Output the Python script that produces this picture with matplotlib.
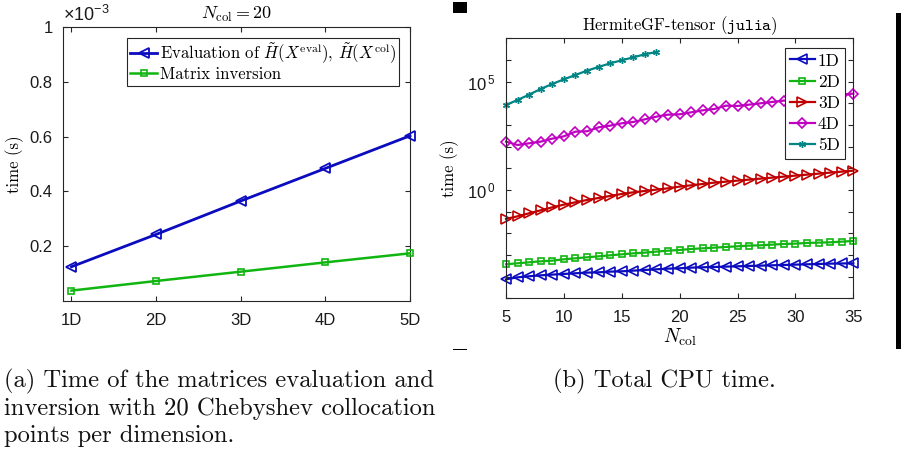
import numpy as np
import matplotlib
matplotlib.use("Agg")
import matplotlib.pyplot as plt
from matplotlib.ticker import FixedLocator, FuncFormatter, NullLocator
from matplotlib.patches import Rectangle

plt.rcParams['font.family'] = ['Liberation Sans', 'DejaVu Sans']
plt.rcParams['mathtext.fontset'] = 'cm'
plt.rcParams['axes.unicode_minus'] = False

SERIF = 'cmr10'

# ---- (a) evaluation / inversion time with 20 collocation points ----
dims = ['1D', '2D', '3D', '4D', '5D']
t_eval = [0.125e-3, 0.243e-3, 0.365e-3, 0.484e-3, 0.603e-3]
t_inv = [0.038e-3, 0.073e-3, 0.107e-3, 0.141e-3, 0.174e-3]

# ---- (b) total CPU time, HermiteGF-tensor (julia) ----
n_col = list(range(5, 36))
n_col_5d = list(range(5, 19))
cpu_1d = [7.5e-5, 9.3e-5, 1.04e-4, 1.15e-4, 1.24e-4, 1.33e-4, 1.43e-4, 1.53e-4,
          1.58e-4, 1.70e-4, 1.76e-4, 1.89e-4, 2.03e-4, 2.18e-4, 2.34e-4, 2.43e-4,
          2.60e-4, 2.70e-4, 2.79e-4, 2.90e-4, 3.00e-4, 3.11e-4, 3.22e-4, 3.34e-4,
          3.45e-4, 3.58e-4, 3.71e-4, 3.84e-4, 3.98e-4, 4.05e-4, 4.12e-4]
cpu_2d = [3.71e-4, 4.12e-4, 4.59e-4, 5.10e-4, 5.48e-4, 6.31e-4, 7.02e-4, 7.80e-4,
          8.67e-4, 9.66e-4, 1.07e-3, 1.19e-3, 1.28e-3, 1.43e-3, 1.58e-3, 1.70e-3,
          1.89e-3, 2.03e-3, 2.18e-3, 2.34e-3, 2.51e-3, 2.70e-3, 2.79e-3, 3.00e-3,
          3.22e-3, 3.34e-3, 3.58e-3, 3.71e-3, 3.84e-3, 4.12e-3, 4.43e-3]
cpu_3d = [0.0459, 0.061, 0.0838, 0.115, 0.158, 0.210, 0.270, 0.345, 0.427, 0.529,
          0.654, 0.780, 0.899, 1.04, 1.19, 1.43, 1.64, 1.89, 2.18, 2.42, 2.70,
          3.00, 3.34, 3.71, 4.12, 4.59, 5.10, 5.67, 6.31, 7.02, 7.80]
cpu_4d = [170, 119, 143, 170, 234, 300, 492, 510, 780, 931, 1194, 1374, 1827,
          2426, 3000, 3107, 3845, 4754, 5475, 7800, 7530, 8670, 10000, 11530,
          13280, 15850, 17620, 20300, 22600, 25120, 27920]
cpu_5d = [8380, 14260, 25120, 45900, 78000, 128200, 203000, 322000, 475000,
          702000, 966000, 1.327e6, 1.827e6, 2.34e6]

W, H = 901, 451
fig = plt.figure(figsize=(W / 100, H / 100), dpi=100)


def rect(x0, y0, x1, y1):
    return [x0 / W, 1 - y1 / H, (x1 - x0) / W, (y1 - y0) / H]


AX_COL = '#262626'


def style_axes(ax):
    for s in ax.spines.values():
        s.set_color(AX_COL)
        s.set_linewidth(0.8)
    ax.tick_params(direction='in', length=3.5, width=0.8, colors=AX_COL,
                   top=True, right=True, labelsize=12, labelcolor='#1a1a1a')
    ax.tick_params(axis='x', pad=8.5)
    ax.tick_params(axis='y', pad=7.5)


BLUE = '#0b0bbf'
GREEN = '#11b511'
RED = '#c00000'
MAGENTA = '#c000c0'
TEAL = '#008585'

# ---------------- left panel ----------------
ax1 = fig.add_axes(rect(63, 27, 410, 301))
style_axes(ax1)
x = np.arange(1, len(dims) + 1)
ax1.plot(x, t_eval, color=BLUE, lw=2.0, marker='<', ms=7, mfc='none', mew=1.3,
         clip_on=False, zorder=3,
         label=r'Evaluation of $\tilde{H}(X^{\rm eval})$, $\tilde{H}(X^{\rm col})$')
ax1.plot(x, t_inv, color=GREEN, lw=1.8, marker='s', ms=4.5, mfc='none', mew=1.2,
         clip_on=False, zorder=3, label='Matrix inversion')
ax1.set_xlim(0.9, 5)
ax1.set_ylim(0, 1e-3)
ax1.set_xticks(x)
ax1.set_xticklabels(dims)
ax1.yaxis.set_major_locator(FixedLocator([0.2e-3, 0.4e-3, 0.6e-3, 0.8e-3, 1e-3]))
ax1.yaxis.set_major_formatter(FuncFormatter(lambda v, p: f'{v * 1e3:g}'))
ax1.xaxis.set_minor_locator(NullLocator())
ax1.set_ylabel('time (s)', family=SERIF, fontsize=12, labelpad=4)
ax1.set_title(r'$N_{\rm col} = 20$', fontsize=13, pad=6)
fig.text(63 / W, 1 - 15 / H, r'$\mathregular{\times10^{-3}}$', fontsize=13,
         color='#1a1a1a', va='center', ha='left')
leg1 = ax1.legend(loc='upper left', bbox_to_anchor=(127 / W, 1 - 38 / H),
                  bbox_transform=fig.transFigure, borderaxespad=0,
                  prop={'family': SERIF, 'size': 12}, fancybox=False,
                  edgecolor=AX_COL, framealpha=1, handlelength=1.6,
                  handletextpad=0.15, borderpad=0.2, labelspacing=0.05)
leg1.get_frame().set_linewidth(0.8)

# ---------------- right panel ----------------
ax2 = fig.add_axes(rect(506, 38.3, 853.3, 298.3))
style_axes(ax2)
ax2.set_yscale('log')
ax2.plot(n_col, cpu_1d, color=BLUE, lw=1.6, marker='<', ms=6.5, mfc='none',
         mew=1.2, clip_on=False, label='1D')
ax2.plot(n_col, cpu_2d, color=GREEN, lw=1.6, marker='s', ms=4.5, mfc='none',
         mew=1.2, clip_on=False, label='2D')
ax2.plot(n_col, cpu_3d, color=RED, lw=1.6, marker='>', ms=6.5, mfc='none',
         mew=1.2, clip_on=False, label='3D')
ax2.plot(n_col, cpu_4d, color=MAGENTA, lw=1.6, marker='D', ms=5, mfc='none',
         mew=1.2, clip_on=False, label='4D')
ax2.plot(n_col_5d, cpu_5d, color=TEAL, lw=1.6, marker=(6, 2, 0), ms=5,
         mew=1.0, clip_on=False, label='5D')
ax2.set_xlim(5, 35)
ax2.set_ylim(1e-5, 1e7)
ax2.set_xticks([5, 10, 15, 20, 25, 30, 35])
ax2.yaxis.set_major_locator(FixedLocator([10.0 ** k for k in range(-5, 8)]))
ax2.yaxis.set_minor_locator(NullLocator())
ax2.yaxis.set_major_formatter(FuncFormatter(
    lambda v, p: {0: r'$\mathregular{10^{\,0}}$', 5: r'$\mathregular{10^{\,5}}$'}
    .get(int(round(np.log10(v))), '')))
ax2.set_ylabel('time (s)', family=SERIF, fontsize=12, labelpad=6)
ax2.set_xlabel(r'$N_{\rm col}$', fontsize=14, labelpad=1)
ax2.set_title(r'HermiteGF-tensor ($\mathtt{julia}$)', family=SERIF,
              fontsize=12, pad=6)
leg2 = ax2.legend(loc='upper left', bbox_to_anchor=(785 / W, 1 - 48 / H),
                  bbox_transform=fig.transFigure, borderaxespad=0,
                  prop={'family': SERIF, 'size': 12.5}, fancybox=False,
                  edgecolor=AX_COL, framealpha=1, handlelength=1.4,
                  handletextpad=0.2, borderpad=0.3, labelspacing=0.34)
leg2.get_frame().set_linewidth(0.8)

# ---------------- captions ----------------
cap = dict(family=SERIF, fontsize=17.7, color='#111111', va='baseline', ha='left')
fig.text(4 / W, 1 - 387 / H, '(a) Time of the matrices evaluation and', **cap)
fig.text(4 / W, 1 - 415 / H, 'inversion with 20 Chebyshev collocation', **cap)
fig.text(4 / W, 1 - 442 / H, 'points per dimension.', **cap)
fig.text(553 / W, 1 - 387 / H, '(b) Total CPU time.', **cap)

# page marks around the right subfigure
for r in [(453, 2, 467, 13), (453, 348.5, 467, 350), (896, 13, 901, 349)]:
    fig.add_artist(Rectangle((r[0] / W, 1 - r[3] / H), (r[2] - r[0]) / W,
                             (r[3] - r[1]) / H, transform=fig.transFigure,
                             color='black', lw=0))

fig.savefig('out.png', dpi=100)
